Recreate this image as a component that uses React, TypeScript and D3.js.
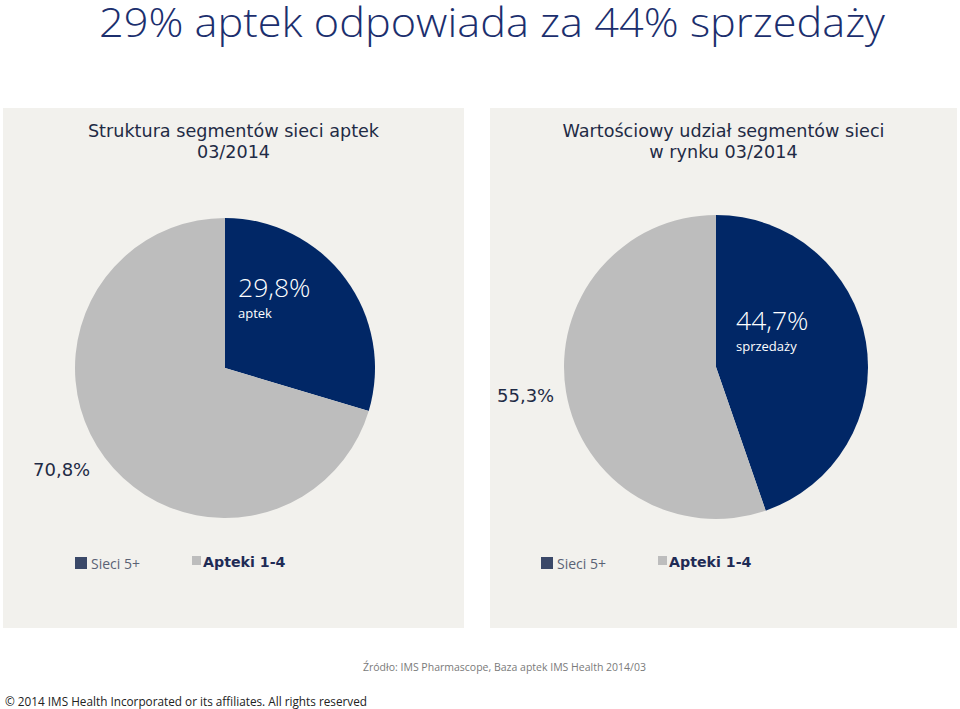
import React from "react";
import * as d3 from "d3";

const segments = ["Sieci 5+", "Apteki 1-4"];
const outletShare = [29.8, 70.8];
const salesShare = [44.7, 55.3];
const insideSub = ["aptek", "sprzedaży"];
const panelTitles = [
  ["Struktura segmentów sieci aptek", "03/2014"],
  ["Wartościowy udział segmentów sieci", "w rynku 03/2014"],
];
const mainTitle = "29% aptek odpowiada za 44% sprzedaży";
const sourceText = "Źródło: IMS Pharmascope, Baza aptek IMS Health 2014/03";
const footerText = "©  2014 IMS Health Incorporated or its affiliates. All rights reserved";

const DARK = "#012766";
const GRAY = "#bdbdbd";
const PANEL = "#f2f1ed";
const fmt = (v: number) => v.toFixed(1).replace(".", ",") + "%";

type PanelCfg = {
  x: number; w: number; cx: number; cy: number; r: number;
  values: number[]; sub: string; title: string[];
  inX: number; inY: number; outX: number; outY: number;
  legX: number;
};

const panels: PanelCfg[] = [
  { x: 3, w: 461, cx: 225, cy: 368, r: 150, values: outletShare, sub: insideSub[0], title: panelTitles[0],
    inX: 238, inY: 297, outX: 33, outY: 476, legX: 75 },
  { x: 490, w: 467, cx: 716, cy: 367, r: 152, values: salesShare, sub: insideSub[1], title: panelTitles[1],
    inX: 736, inY: 330, outX: 497, outY: 402, legX: 541 },
];

function Pie({ p }: { p: PanelCfg }) {
  const pie = d3.pie<number>().sort(null).value((d) => d);
  const arcs = pie(p.values);
  const arc = d3.arc<d3.PieArcDatum<number>>().innerRadius(0).outerRadius(p.r);
  const colors = [DARK, GRAY];
  const titleCx = p.x + p.w / 2;
  return (
    <g>
      <rect x={p.x} y={108} width={p.w} height={520} fill={PANEL} />
      {p.title.map((t, i) => (
        <text key={i} x={titleCx} y={137 + i * 21} textAnchor="middle"
          fontFamily="DejaVu Sans, Verdana, sans-serif" fontSize={17.6} fill="#1f2b45">{t}</text>
      ))}
      <g transform={`translate(${p.cx},${p.cy})`}>
        {arcs.map((a, i) => (
          <path key={i} d={arc(a) || ""} fill={colors[i]} />
        ))}
      </g>
      <text x={p.inX} y={p.inY} fontFamily="Open Sans, Lato, sans-serif" fontWeight={300}
        fontSize={26.5} fill="#ffffff">{fmt(p.values[0])}</text>
      <text x={p.inX} y={p.inY + 21} fontFamily="Open Sans, Lato, sans-serif"
        fontSize={13} fill="#ffffff">{p.sub}</text>
      <text x={p.outX} y={p.outY} fontFamily="DejaVu Sans, Verdana, sans-serif"
        fontSize={18} fill="#1f2b45">{fmt(p.values[1])}</text>
      {/* legend */}
      <rect x={p.legX} y={557} width={12} height={12} fill="#3a4868" />
      <text x={p.legX + 16} y={569} fontFamily="Open Sans, Lato, sans-serif" fontSize={14}
        fill="#5a6275">{segments[0]}</text>
      <rect x={p.legX + 117} y={556} width={9} height={9} fill={GRAY} />
      <text x={p.legX + 128} y={567} fontFamily="DejaVu Sans, Verdana, sans-serif" fontWeight="bold"
        fontSize={14.2} fill="#1f2b55">{segments[1]}</text>
    </g>
  );
}

export default function App() {
  return (
    <svg width={960} height={709} style={{ position: "absolute", left: 0, top: 0, display: "block" }}>
      <rect x={0} y={0} width={960} height={709} fill="#ffffff" />
      <text x={99} y={37} textLength={786} lengthAdjust="spacingAndGlyphs"
        fontFamily="Open Sans, Lato, sans-serif" fontWeight={300}
        fontSize={41} fill="#1c2f6e">{mainTitle}</text>
      {panels.map((p, i) => <Pie key={i} p={p} />)}
      <text x={363} y={671} textLength={283} lengthAdjust="spacingAndGlyphs"
        fontFamily="Open Sans, Lato, sans-serif" fontSize={11.5} fill="#7a7a7a">{sourceText}</text>
      <text x={5} y={706} textLength={362} lengthAdjust="spacingAndGlyphs"
        fontFamily="Open Sans, Lato, sans-serif" fontSize={12.5} fill="#222222">{footerText}</text>
    </svg>
  );
}
